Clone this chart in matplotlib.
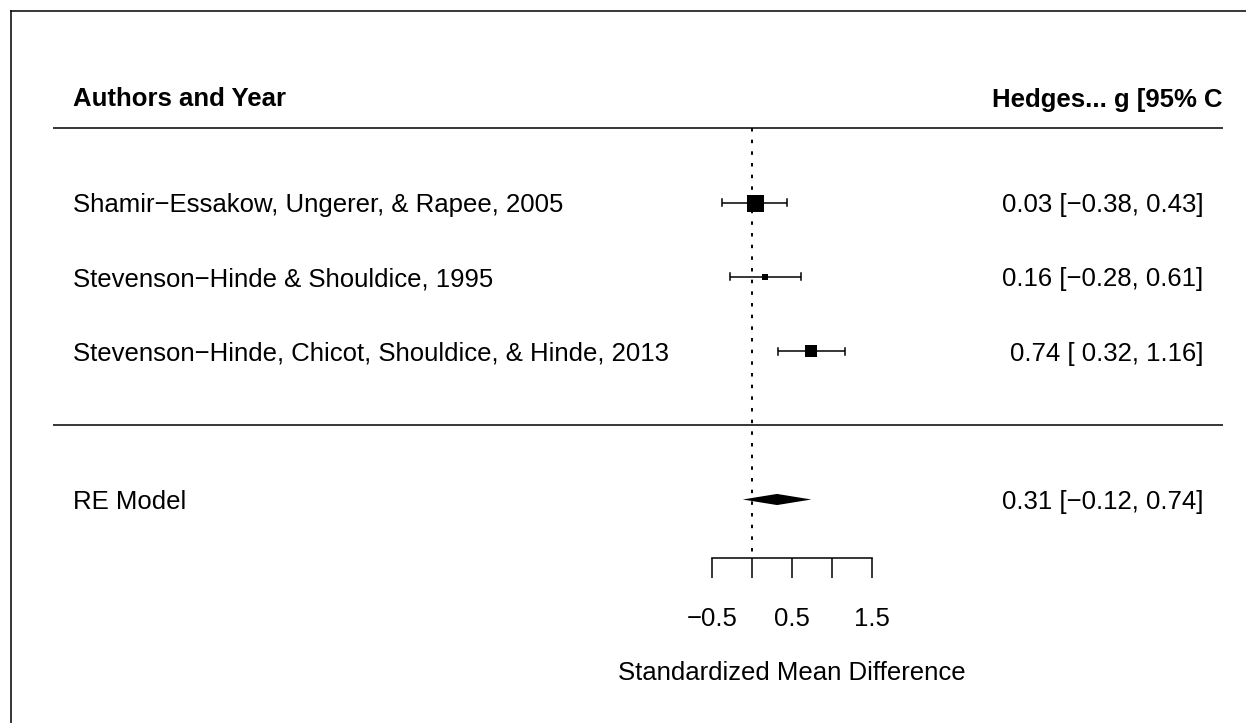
import matplotlib
matplotlib.use("Agg")
import matplotlib.pyplot as plt
from matplotlib.patches import Polygon
from matplotlib.lines import Line2D

# ---- data ----
studies = ["Shamir\u2212Essakow, Ungerer, & Rapee, 2005",
           "Stevenson\u2212Hinde & Shouldice, 1995",
           "Stevenson\u2212Hinde, Chicot, Shouldice, & Hinde, 2013"]
est = [0.03, 0.16, 0.74]
ci_lo = [-0.38, -0.28, 0.32]
ci_hi = [0.43, 0.61, 1.16]
re_label = "RE Model"
re_est = 0.31
re_lo = -0.12
re_hi = 0.74
xticks = [-0.5, 0.0, 0.5, 1.0, 1.5]
xticklabels = ["\u22120.5", "", "0.5", "", "1.5"]
header_left = "Authors and Year"
header_right = "Hedges... g [95% C"
xlabel = "Standardized Mean Difference"

# ---- style ----
square_px = [17, 6, 12]
FS = 18.5
FONT = "Liberation Sans"
W, H = 1246, 723
px_per_x = 79.8
x0_px = 752.3
row_px = 74.2
row3_px = 202.7


def fmt(v):
    return f"{v:.2f}".replace("-", "\u2212")


def fmt_pad(v):
    s = f"{v:5.2f}"
    return s.replace("-", "\u2212")


fig = plt.figure(figsize=(W / 100, H / 100), dpi=100)
ax = fig.add_axes([0, 0, 1, 1])
ax.set_xlim(-x0_px / px_per_x, (W - x0_px) / px_per_x)
ax.set_ylim(3 - (H - row3_px) / row_px, 3 + row3_px / row_px)
for s in ["top", "left", "right"]:
    ax.spines[s].set_visible(False)
ax.set_yticks([])

rows = [3, 2, 1]
re_row = -1
axis_row = -1.79
lw = 1.1

x_left = (73 - x0_px) / px_per_x
x_right_num = (1203.5 - x0_px) / px_per_x
x_right_head = (1222 - x0_px) / px_per_x
line_l = (52.5 - x0_px) / px_per_x
line_r = (1222.5 - x0_px) / px_per_x

# horizontal rules
ax.plot([line_l, line_r], [4, 4], color="black", lw=lw, solid_capstyle="butt")
ax.plot([line_l, line_r], [0, 0], color="black", lw=lw, solid_capstyle="butt")

# reference line
ax.plot([0, 0], [4, axis_row], color="black", lw=1.4, dashes=(1.8, 4.2))

cap = 0.047
for r, e, lo, hi, sz, name in zip(rows, est, ci_lo, ci_hi, square_px, studies):
    ax.plot([lo, hi], [r, r], color="black", lw=lw, solid_capstyle="butt")
    ax.plot([lo, lo], [r - cap, r + cap], color="black", lw=lw)
    ax.plot([hi, hi], [r - cap, r + cap], color="black", lw=lw)
    ax.plot([e], [r], marker="s", ms=sz * 0.72, color="black", mew=0, ls="none")
    ax.text(x_left, r, name, ha="left", va="center_baseline", fontsize=FS, family=FONT)
    ax.text(x_right_num, r, f"{fmt(e)} [{fmt_pad(lo)}, {fmt(hi)}]",
            ha="right", va="center_baseline", fontsize=FS, family=FONT)

# summary diamond
hd = 0.075
ax.add_patch(Polygon([[re_lo, re_row], [re_est, re_row + hd], [re_hi, re_row],
                      [re_est, re_row - hd]], closed=True, color="black", lw=0))
ax.text(x_left, re_row, re_label, ha="left", va="center_baseline", fontsize=FS, family=FONT)
ax.text(x_right_num, re_row, f"{fmt(re_est)} [{fmt_pad(re_lo)}, {fmt(re_hi)}]",
        ha="right", va="center_baseline", fontsize=FS, family=FONT)

# header
head_row = 3 + (row3_px - 97) / row_px
ax.text(x_left, head_row, header_left, ha="left", va="center_baseline",
        fontsize=FS, family=FONT, fontweight="bold")
ax.text(x_right_head, head_row, header_right, ha="right", va="center_baseline",
        fontsize=FS, family=FONT, fontweight="bold")

# x axis
ax.spines["bottom"].set_position(("data", axis_row))
ax.spines["bottom"].set_bounds(xticks[0], xticks[-1])
ax.spines["bottom"].set_linewidth(lw)
ax.set_xticks(xticks)
ax.set_xticklabels(xticklabels, fontsize=FS, family=FONT)
ax.tick_params(axis="x", direction="out", length=20 * 0.72, width=lw, pad=21)

xl_row = 3 - (671 - row3_px) / row_px
ax.text(0.5, xl_row, xlabel, ha="center", va="center_baseline", fontsize=FS, family=FONT)

# outer box (clipped at right and bottom)
bx = 11.3 / W
by = 1 - 10.7 / H
fig.add_artist(Line2D([bx, 1.0], [by, by], transform=fig.transFigure, color="black", lw=1.1))
fig.add_artist(Line2D([bx, bx], [0.0, by], transform=fig.transFigure, color="black", lw=1.1))

fig.savefig("out.png", dpi=100, facecolor="white")
